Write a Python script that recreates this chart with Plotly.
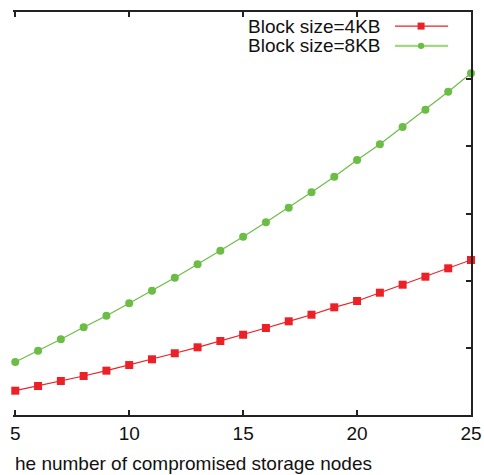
import plotly.graph_objects as go

nodes = list(range(5, 26))
block_4kb = [0.362, 0.432, 0.506, 0.581, 0.660, 0.744, 0.829, 0.919, 1.008, 1.102,
             1.195, 1.295, 1.395, 1.493, 1.603, 1.697, 1.821, 1.940, 2.059, 2.184, 2.308]
block_8kb = [0.789, 0.957, 1.127, 1.306, 1.478, 1.663, 1.851, 2.044, 2.244, 2.446,
             2.654, 2.869, 3.086, 3.315, 3.548, 3.796, 4.030, 4.288, 4.545, 4.813, 5.087]
x_ticks = [5, 10, 15, 20, 25]
series_names = ["Block size=4KB", "Block size=8KB"]

RED = "#ec2027"
GREEN = "#6bbd45"
FONT = "Liberation Sans, Arial, Helvetica, sans-serif"
AX = "#222222"

fig = go.Figure()
fig.add_trace(go.Scatter(x=nodes, y=block_4kb, mode="lines+markers", name=series_names[0],
                         line=dict(color=RED, width=1.2),
                         marker=dict(symbol="square", size=8, color=RED),
                         cliponaxis=False, showlegend=False))
fig.add_trace(go.Scatter(x=nodes, y=block_8kb, mode="lines+markers", name=series_names[1],
                         line=dict(color=GREEN, width=1.2),
                         marker=dict(symbol="circle", size=8, color=GREEN),
                         cliponaxis=False, showlegend=False))

# legend drawn gnuplot-style: text right-aligned, sample to the right
rows = [(0.965, RED, RED, 1.3, "square", 3.5), (0.916, "#a3d883", GREEN, 2.2, "circle", 3.2)]
for (yy, lcol, mcol, lw, sym, half), name in zip(rows, series_names):
    fig.add_annotation(xref="paper", yref="paper", x=0.808, y=yy, text=name,
                       showarrow=False, xanchor="right", yanchor="middle",
                       font=dict(family=FONT, size=19, color="#111111"))
    fig.add_shape(type="line", xref="paper", yref="paper", x0=0.834, x1=0.950, y0=yy, y1=yy,
                  line=dict(color=lcol, width=lw))
    dx, dy = half / 458, half / 403
    fig.add_shape(type="rect" if sym == "square" else "circle", xref="paper", yref="paper",
                  x0=0.891 - dx, x1=0.891 + dx, y0=yy - dy, y1=yy + dy,
                  line=dict(width=0), fillcolor=mcol)

fig.add_annotation(xref="paper", yref="paper", x=(12.7 - 13) / 458, y=(415 - 463) / 403,
                   text="he number of compromised storage nodes", showarrow=False,
                   xanchor="left", yanchor="middle",
                   font=dict(family=FONT, size=19, color="#111111"))

fig.update_layout(
    template="none",
    width=484, height=475, autosize=False,
    margin=dict(l=13, r=13, t=12, b=60, pad=0),
    paper_bgcolor="white", plot_bgcolor="white",
    font=dict(family=FONT, size=19, color="#111111"),
    xaxis=dict(range=[4.9, 25], tickvals=x_ticks, ticks="inside", ticklen=5, tickwidth=2,
               tickcolor=AX, showline=True, linecolor=AX, linewidth=2, mirror="ticks",
               showgrid=False, zeroline=False, automargin=False,
               tickfont=dict(size=19)),
    yaxis=dict(range=[0, 6], dtick=1, side="right", ticks="inside", ticklen=5, tickwidth=2,
               tickcolor=AX, showline=True, linecolor=AX, linewidth=2, mirror=False,
               automargin=False, showticklabels=False, showgrid=False, zeroline=False),
)

fig.write_html("out.html",
               config={"responsive": False, "displayModeBar": False},
               post_script="document.body.style.margin='0';document.body.style.padding='0';document.body.style.overflow='hidden';")
